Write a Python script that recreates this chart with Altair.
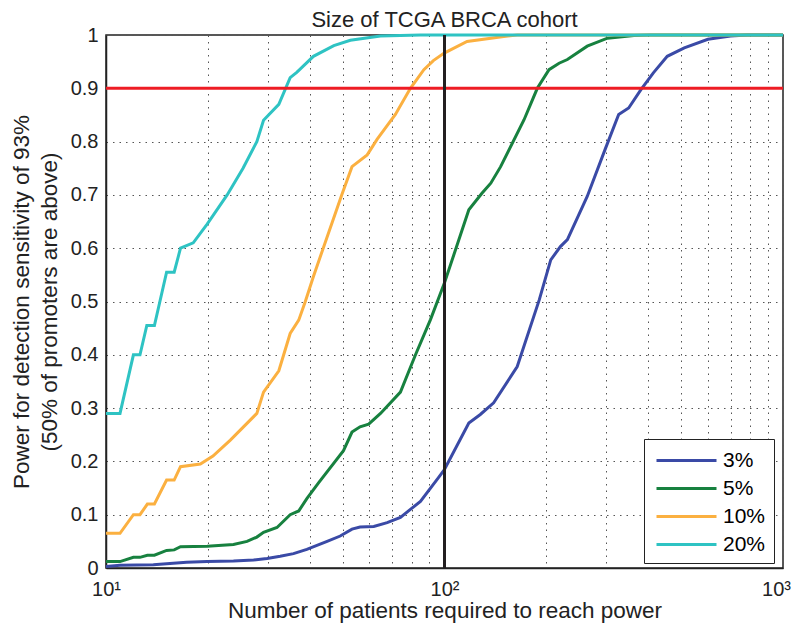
import altair as alt
import pandas as pd

series_names = ["3%", "5%", "10%", "20%"]
series_colors = ["#3a4aa6", "#17813f", "#fbb040", "#2ec3c3"]

x3 = [10, 11, 13.8, 15.8, 17.3, 19.9, 23.8, 27.3, 29.9, 32.7, 35.8, 39.2, 45.0, 49.2, 53.3, 56.3,
      61.8, 67.7, 74.1, 79.3, 84.9, 96.1, 99.8, 118, 127.6, 139.7, 164, 190.5, 206, 220, 230.7,
      264, 298, 327, 350, 380, 414, 455, 511, 600, 700, 785, 1000]
y3 = [0.003, 0.005, 0.006, 0.009, 0.011, 0.012, 0.013, 0.015, 0.018, 0.022, 0.027, 0.035, 0.05,
      0.06, 0.073, 0.077, 0.078, 0.085, 0.095, 0.11, 0.125, 0.17, 0.184, 0.272, 0.288, 0.31,
      0.378, 0.503, 0.578, 0.603, 0.616, 0.697, 0.785, 0.851, 0.863, 0.897, 0.929, 0.96, 0.976,
      0.992, 0.998, 1.0, 1.0]

x5 = [10, 11, 12.05, 12.6, 13.25, 13.9, 15.1, 15.9, 16.6, 19.9, 23.8, 26.1, 27.9, 29.2, 32.0,
      35.0, 37.1, 39.2, 42.5, 50.3, 53.3, 56.3, 59.7, 64.7, 74.1, 82.1, 90.9, 100, 118, 129, 137,
      146.5, 171.8, 188, 203.6, 218, 230.7, 264, 303, 363, 406, 1000]
y5 = [0.012, 0.012, 0.02, 0.02, 0.024, 0.024, 0.033, 0.034, 0.04, 0.041, 0.044, 0.05, 0.058,
      0.067, 0.076, 0.10, 0.107, 0.13, 0.16, 0.22, 0.255, 0.265, 0.27, 0.29, 0.33, 0.40, 0.466,
      0.535, 0.672, 0.703, 0.722, 0.753, 0.841, 0.90, 0.935, 0.947, 0.954, 0.979, 0.994, 0.999,
      1.0, 1.0]

x10 = [10, 11, 12.05, 12.6, 13.25, 13.9, 15.1, 15.9, 16.6, 19.0, 20.7, 23.3, 27.9, 29.2, 32.4,
       35.0, 37.1, 38.8, 41.0, 49.7, 53.3, 59.1, 63.2, 71.6, 79.3, 86.9, 92.7, 99.8, 116.6, 149.7,
       164, 1000]
y10 = [0.065, 0.065, 0.10, 0.10, 0.12, 0.12, 0.165, 0.165, 0.19, 0.195, 0.21, 0.24, 0.29, 0.33,
       0.37, 0.44, 0.465, 0.50, 0.547, 0.70, 0.753, 0.775, 0.804, 0.851, 0.90, 0.935, 0.952,
       0.966, 0.988, 0.997, 1.0, 1.0]

x20 = [10, 11, 12.05, 12.6, 13.2, 13.9, 15.1, 15.9, 16.6, 18.1, 19.9, 22.8, 25.4, 27.9, 29.2,
       32.4, 35.0, 36.6, 41.0, 47.1, 52.7, 64.7, 84.9, 1000]
y20 = [0.29, 0.29, 0.40, 0.40, 0.455, 0.455, 0.555, 0.555, 0.60, 0.61, 0.645, 0.70, 0.75, 0.80,
       0.84, 0.87, 0.92, 0.93, 0.96, 0.98, 0.99, 0.998, 1.0, 1.0]

power_threshold = [0.9]
cohort_size = [100]

x_ticks = [10, 20, 30, 40, 50, 60, 70, 80, 90, 100, 200, 300, 400, 500, 600, 700, 800, 900, 1000]
y_ticks = [0, 0.1, 0.2, 0.3, 0.4, 0.5, 0.6, 0.7, 0.8, 0.9, 1.0]

rows = []
for name, xs, ys in zip(series_names, [x3, x5, x10, x20], [y3, y5, y10, y20]):
    for i, (xv, yv) in enumerate(zip(xs, ys)):
        rows.append({"series": name, "n": xv, "power": yv, "idx": i})
df = pd.DataFrame(rows)

FONT = "Liberation Sans"
x_scale = alt.Scale(type="log", domain=[10, 1000], nice=False)
y_scale = alt.Scale(domain=[0, 1], nice=False)

x_axis = alt.Axis(
    values=x_ticks,
    labelExpr="datum.value == 10 ? '10\u00b9' : datum.value == 100 ? '10\u00b2' : datum.value == 1000 ? '10\u00b3' : ''",
    title="Number of patients required to reach power",
    grid=True, gridDash=[1.5, 5], gridColor="#555555", gridWidth=1,
    ticks=False, labelPadding=11, titlePadding=0,
    labelFontSize=20, titleFontSize=22.5, labelFlush=False,
    labelOffset={"condition": {"test": "datum.value == 1000", "value": -7}, "value": 0},
)
y_axis = alt.Axis(
    values=y_ticks, format=".1~f",
    title=["Power for detection sensitivity of 93%", "(50% of promoters are above)"],
    grid=True, gridDash=[1.5, 5], gridColor="#555555", gridWidth=1,
    ticks=False, labelPadding=8, titlePadding=9,
    labelFontSize=20, titleFontSize=22.5, titleLineHeight=28,
)

lines = alt.Chart(df).mark_line(strokeWidth=3).encode(
    x=alt.X("n:Q", scale=x_scale, axis=x_axis),
    y=alt.Y("power:Q", scale=y_scale, axis=y_axis),
    color=alt.Color(
        "series:N",
        scale=alt.Scale(domain=series_names, range=series_colors),
        legend=alt.Legend(
            title=None, orient="none", legendX=538, legendY=404,
            symbolType="M-2.5,0H2.5", symbolSize=576, symbolStrokeWidth=3,
            symbolOffset=21,
            labelFontSize=21, labelFont=FONT, rowPadding=4,
            strokeColor="#222222", fillColor="white",
            padding=8, labelOffset=23,
        ),
    ),
    order="idx:Q",
)

hline = alt.Chart(pd.DataFrame({"power": power_threshold})).mark_rule(
    color="#ee1c24", strokeWidth=3
).encode(y=alt.Y("power:Q", scale=y_scale))

vline = alt.Chart(pd.DataFrame({"n": cohort_size})).mark_rule(
    color="#231f20", strokeWidth=3
).encode(x=alt.X("n:Q", scale=x_scale))

chart = alt.layer(lines, hline, vline).properties(
    width=677, height=533,
    title=alt.Title("Size of TCGA BRCA cohort", fontSize=22, fontWeight="normal", font=FONT,
                    offset=-7, color="#222222"),
    padding={"left": 98, "top": 27, "right": 9, "bottom": 58},
    autosize=alt.AutoSizeParams(type="none"),
).configure_view(
    stroke="#222222", strokeWidth=1.5
).configure_axis(
    labelFont=FONT, titleFont=FONT, labelColor="#222222", titleColor="#222222",
    domainColor="#222222", domainWidth=1.5, titleFontWeight="normal",
)

chart.save("out.html", embed_options={"renderer": "svg", "actions": False})
